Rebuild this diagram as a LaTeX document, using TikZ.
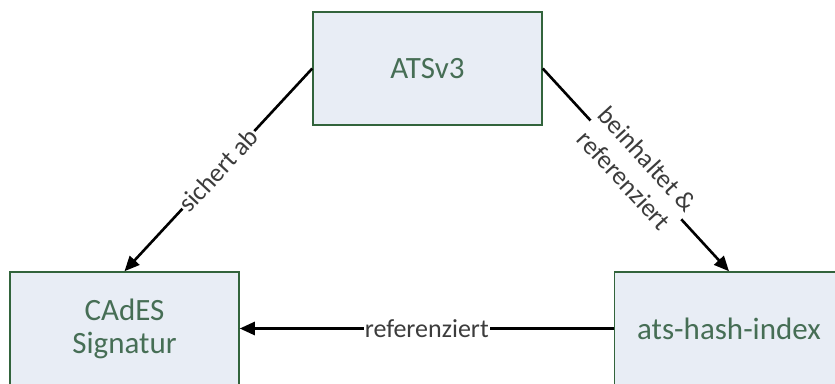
\documentclass[tikz,border=0pt]{standalone}
\usepackage{fontspec}
\setmainfont{Carlito}
\usetikzlibrary{arrows.meta}
\definecolor{boxfill}{RGB}{232,237,245}
\definecolor{boxline}{RGB}{50,100,60}
\definecolor{boxtext}{RGB}{70,110,85}
\definecolor{labeltext}{RGB}{60,60,60}
\begin{document}
\begin{tikzpicture}[x=1pt,y=-1pt,
  entity/.style={draw=boxline, line width=1.5pt, fill=boxfill,
    minimum width=229pt, minimum height=113pt, inner sep=0pt,
    text=boxtext, font=\fontsize{31}{33}\selectfont, align=center},
  link/.style={line width=2.6pt, -{Triangle[length=15pt,width=13pt]}},
  linklabel/.style={fill=white, text=labeltext,
    font=\fontsize{26}{31}\selectfont, inner sep=1pt, align=center}]
\useasboundingbox (0,0) rectangle (835,383);
\fill[white] (0,0) rectangle (835,383);
\clip (0,0) rectangle (835,383);

% the three entities
\node[entity] (ats)   at (427.5,68.5)  {ATSv3};
\node[entity] (cades) at (124.5,328.5) {CAdES\\Signatur};
\node[entity] (hash)  at (729,328.5)   {ats-hash-index};

% relations between them
\draw[link] (ats.west) -- node[linklabel, sloped] {sichert ab} (cades.north);
\draw[link] (ats.east) -- node[linklabel, sloped] {beinhaltet \&\\referenziert} (hash.north);
\draw[link] (hash.west) -- node[linklabel] {referenziert} (cades.east);
\end{tikzpicture}
\end{document}
